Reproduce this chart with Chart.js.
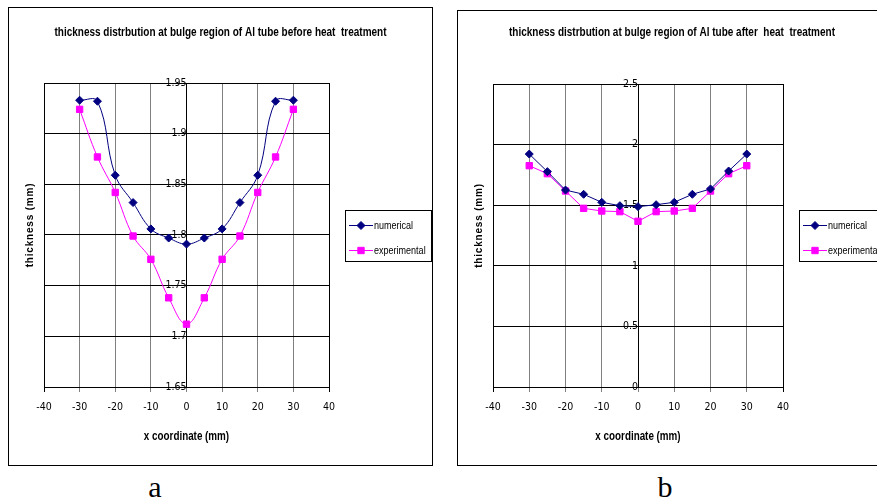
<!DOCTYPE html>
<html>
<head>
<meta charset="utf-8">
<script src="https://cdn.jsdelivr.net/npm/chart.js@4/dist/chart.umd.min.js"></script>
<style>
  html, body { margin: 0; padding: 0; background: #fff; overflow: hidden; }
  body { width: 877px; height: 499px; position: relative; }
  .frame { position: absolute; border: 1px solid #000; box-sizing: border-box; }
  canvas { position: absolute; }
  .tag { position: absolute; width: 40px; text-align: center; font: 30px/30px "Liberation Serif", "Times New Roman", serif; color: #000; }
</style>
</head>
<body>
<div class="frame" style="left:8px; top:7px; width:425px; height:459px;"></div>
<div class="frame" style="left:457px; top:10px; width:440px; height:456px;"></div>
<canvas id="before" width="425" height="458" style="left:8px; top:7px;"></canvas>
<canvas id="after" width="430" height="455" style="left:457px; top:10px;"></canvas>
<div class="tag" style="left:135px; top:472px;">a</div>
<div class="tag" style="left:645px; top:472px;">b</div>
<script>
// positions along the bulge (mm)
const xCoords = [-30, -25, -20, -15, -10, -5, 0, 5, 10, 15, 20, 25, 30];

// thickness (mm) before heat treatment
const numericalBefore = [1.933, 1.932, 1.859, 1.832, 1.806, 1.797, 1.791, 1.797, 1.806, 1.832, 1.859, 1.932, 1.933];
const experimentalBefore = [1.924, 1.877, 1.842, 1.799, 1.776, 1.738, 1.712, 1.738, 1.776, 1.799, 1.842, 1.877, 1.924];

// thickness (mm) after heat treatment
const numericalAfter = [1.922, 1.777, 1.625, 1.590, 1.524, 1.496, 1.488, 1.504, 1.524, 1.590, 1.634, 1.782, 1.922];
const experimentalAfter = [1.826, 1.760, 1.617, 1.474, 1.452, 1.447, 1.367, 1.447, 1.452, 1.474, 1.617, 1.760, 1.826];

const xTicks = [-40, -30, -20, -10, 0, 10, 20, 30, 40];
const yTicksBefore = [1.65, 1.7, 1.75, 1.8, 1.85, 1.9, 1.95];
const yTicksAfter = [0, 0.5, 1, 1.5, 2, 2.5];

const ARIAL = '"Liberation Sans", Arial, sans-serif';
Chart.defaults.font.family = '"DejaVu Sans Condensed", "Arial Narrow", sans-serif';
Chart.defaults.font.size = 10.5;
Chart.defaults.color = '#000';

// Arial squeezed sideways, close to Arial Narrow
function narrowText(ctx, text, x, y, font, align) {
  ctx.save();
  ctx.translate(x, y);
  ctx.scale(0.82, 1);
  ctx.font = font;
  ctx.fillStyle = '#000';
  ctx.textAlign = align;
  ctx.textBaseline = 'middle';
  ctx.fillText(text, 0, 0);
  ctx.restore();
}

// chart title, x title and the rotated y title
const chartText = {
  id: 'chartText',
  afterDraw(chart, args, opts) {
    const { ctx, chartArea, width } = chart;
    const midX = (chartArea.left + chartArea.right) / 2;
    const midY = (chartArea.top + chartArea.bottom) / 2;
    narrowText(ctx, opts.title, width / 2, opts.titleY, 'bold 12.2px ' + ARIAL, 'center');
    narrowText(ctx, opts.xTitle, midX, chartArea.bottom + opts.xTitleGap, 'bold 12px ' + ARIAL, 'center');
    ctx.save();
    ctx.translate(chartArea.left + opts.yTitleDx, midY + opts.yTitleDy);
    ctx.rotate(-Math.PI / 2);
    ctx.font = 'bold 10px ' + ARIAL;
    ctx.letterSpacing = '0.8px';
    ctx.fillStyle = '#000';
    ctx.textAlign = 'center';
    ctx.textBaseline = 'middle';
    ctx.fillText(opts.yTitle, 0, 0);
    ctx.restore();
  }
};

// boxed legend to the right of the plot
const boxLegend = {
  id: 'boxLegend',
  afterDraw(chart, args, opts) {
    const { ctx, chartArea } = chart;
    const left = Math.round(chartArea.right + opts.gap);
    const top = Math.round((chartArea.top + chartArea.bottom) / 2 - opts.height / 2);
    ctx.save();
    ctx.fillStyle = '#fff';
    ctx.fillRect(left, top, opts.width, opts.height);
    ctx.strokeStyle = '#000';
    ctx.lineWidth = 1;
    ctx.strokeRect(left + 0.5, top + 0.5, opts.width, opts.height);
    chart.data.datasets.forEach((ds, i) => {
      const y = top + opts.rowTop + i * opts.rowGap + 0.5;
      ctx.strokeStyle = ds.borderColor;
      ctx.beginPath();
      ctx.moveTo(left + 4, y);
      ctx.lineTo(left + 28, y);
      ctx.stroke();
      ctx.fillStyle = ds.pointBackgroundColor;
      Chart.helpers.drawPoint(ctx, { pointStyle: ds.pointStyle, radius: ds.pointRadius, rotation: 0, borderWidth: 1 }, left + 16, y);
      narrowText(ctx, ds.label, left + 29, y, '11px ' + ARIAL, 'left');
    });
    ctx.restore();
  }
};

function series(label, values, color, style, radius, tension) {
  return {
    label: label,
    data: xCoords.map((x, i) => ({ x: x, y: values[i] })),
    borderColor: color,
    backgroundColor: color,
    pointBackgroundColor: color,
    pointBorderColor: color,
    pointStyle: style,
    pointRadius: radius,
    borderWidth: 1,
    tension: tension
  };
}

function drawChart(id, title, top, titleY, numerical, experimental, yTicks, tension) {
  return new Chart(document.getElementById(id), {
    type: 'line',
    data: {
      datasets: [
        series('numerical', numerical, '#000080', 'rectRot', 4, tension),
        series('experimental', experimental, '#FF00FF', 'rect', 4.5, tension)
      ]
    },
    options: {
      responsive: false,
      animation: false,
      layout: { padding: { left: 36, right: 104, top: top, bottom: 0 } },
      plugins: {
        legend: { display: false },
        tooltip: { enabled: false },
        title: { display: false },
        chartText: {
          title: title,
          titleY: titleY,
          xTitle: 'x coordinate (mm)',
          xTitleGap: 50,
          yTitle: 'thickness (mm)',
          yTitleDx: -14,
          yTitleDy: -10
        },
        boxLegend: { gap: 16, width: 86, height: 51, rowTop: 15, rowGap: 25 }
      },
      scales: {
        x: {
          type: 'linear',
          min: -40,
          max: 40,
          afterBuildTicks: s => { s.ticks = xTicks.map(v => ({ value: v })); },
          afterFit: s => { s.height = 78; },
          grid: {
            color: c => (c.tick && Math.abs(c.tick.value) === 40) ? '#000' : '#808080',
            tickLength: 5
          },
          border: { color: '#000' },
          ticks: { padding: 9, maxRotation: 0 }
        },
        y: {
          type: 'linear',
          position: { x: 0 },
          min: yTicks[0],
          max: yTicks[yTicks.length - 1],
          afterBuildTicks: s => { s.ticks = yTicks.map(v => ({ value: v })); },
          grid: { color: '#000', tickLength: 4 },
          border: { color: '#000' },
          ticks: { padding: 2, callback: v => String(v) }
        }
      }
    },
    plugins: [chartText, boxLegend]
  });
}

drawChart('before', 'thickness distrbution at bulge region of Al tube before heat  treatment',
  76, 25.5, numericalBefore, experimentalBefore, yTicksBefore, 0.4);
drawChart('after', 'thickness distrbution at bulge region of Al tube after  heat  treatment',
  74, 23, numericalAfter, experimentalAfter, yTicksAfter, 0);
</script>
</body>
</html>
